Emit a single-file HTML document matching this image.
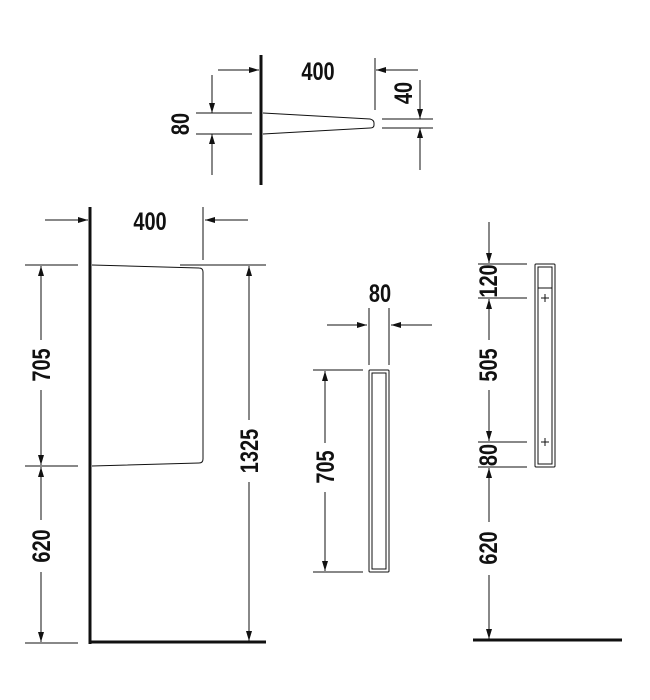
<!DOCTYPE html>
<html><head><style>body{margin:0;background:#fff}svg{display:block}text{font-family:"Liberation Sans",sans-serif;font-weight:bold;font-size:25px;fill:#111}</style></head>
<body>
<svg width="650" height="700" viewBox="0 0 650 700" xmlns="http://www.w3.org/2000/svg">
<defs><marker id="a" viewBox="0 0 10 6" refX="10" refY="3" markerWidth="10" markerHeight="6" markerUnits="userSpaceOnUse" orient="auto"><path d="M0,0L10,3L0,6z" fill="#111"/></marker></defs>
<g stroke="#111" stroke-width="1" fill="none">
<line x1="261" y1="55" x2="261" y2="185" stroke-width="3"/>
<path d="M263,113 L370,119 Q374,120 374,123 L374,125 Q374,128 370,128 L263,134"/>
<line x1="196" y1="113" x2="252" y2="113"/><line x1="196" y1="134" x2="252" y2="134"/>
<line x1="212" y1="75" x2="212" y2="113" marker-end="url(#a)"/><line x1="212" y1="175" x2="212" y2="134" marker-end="url(#a)"/>
<line x1="218" y1="70" x2="259" y2="70" marker-end="url(#a)"/>
<line x1="375" y1="58" x2="375" y2="110"/>
<line x1="418" y1="70" x2="376" y2="70" marker-end="url(#a)"/>
<line x1="382" y1="119" x2="433" y2="119"/><line x1="382" y1="128" x2="433" y2="128"/>
<line x1="420" y1="80" x2="420" y2="119" marker-end="url(#a)"/><line x1="420" y1="170" x2="420" y2="128" marker-end="url(#a)"/>
<line x1="90" y1="207" x2="90" y2="644" stroke-width="3"/>
<line x1="89" y1="642" x2="266" y2="642" stroke-width="3"/>
<path d="M92,265 L199,268 Q203,268 203,272 L203,459 Q203,463 199,463 L92,466"/>
<line x1="25" y1="265" x2="78" y2="265"/><line x1="25" y1="466" x2="78" y2="466"/><line x1="25" y1="643" x2="78" y2="643"/>
<line x1="180" y1="265" x2="266" y2="265"/>
<line x1="41" y1="340" x2="41" y2="266" marker-end="url(#a)"/><line x1="41" y1="390" x2="41" y2="465" marker-end="url(#a)"/>
<line x1="41" y1="520" x2="41" y2="467" marker-end="url(#a)"/><line x1="41" y1="572" x2="41" y2="642" marker-end="url(#a)"/>
<line x1="249" y1="420" x2="249" y2="266" marker-end="url(#a)"/><line x1="249" y1="482" x2="249" y2="641" marker-end="url(#a)"/>
<line x1="45" y1="220" x2="88" y2="220" marker-end="url(#a)"/>
<line x1="203" y1="207" x2="203" y2="260"/>
<line x1="248" y1="220" x2="205" y2="220" marker-end="url(#a)"/>
<rect x="369" y="370" width="20" height="202" rx="1"/>
<rect x="372" y="373" width="14" height="196"/>
<line x1="369" y1="308" x2="369" y2="365"/><line x1="389" y1="308" x2="389" y2="365"/>
<line x1="327" y1="325" x2="367" y2="325" marker-end="url(#a)"/><line x1="432" y1="325" x2="391" y2="325" marker-end="url(#a)"/>
<line x1="313" y1="370" x2="363" y2="370"/><line x1="313" y1="572" x2="363" y2="572"/>
<line x1="325" y1="443" x2="325" y2="371" marker-end="url(#a)"/><line x1="325" y1="492" x2="325" y2="571" marker-end="url(#a)"/>
<rect x="535" y="264" width="20" height="203" rx="1"/>
<rect x="538" y="267" width="14" height="197"/>
<line x1="538" y1="288" x2="552" y2="288"/>
<line x1="541" y1="298" x2="549" y2="298"/><line x1="545" y1="294" x2="545" y2="302"/>
<line x1="541" y1="442" x2="549" y2="442"/><line x1="545" y1="438" x2="545" y2="446"/>
<line x1="478" y1="264" x2="527" y2="264"/><line x1="478" y1="298" x2="527" y2="298"/>
<line x1="478" y1="442" x2="527" y2="442"/><line x1="478" y1="467" x2="527" y2="467"/>
<line x1="489" y1="222" x2="489" y2="263" marker-end="url(#a)"/>
<line x1="489" y1="340" x2="489" y2="299" marker-end="url(#a)"/><line x1="489" y1="390" x2="489" y2="441" marker-end="url(#a)"/>
<line x1="489" y1="522" x2="489" y2="468" marker-end="url(#a)"/><line x1="489" y1="575" x2="489" y2="639" marker-end="url(#a)"/>
<line x1="473" y1="640" x2="622" y2="640" stroke-width="3"/>
</g>
<g text-anchor="middle">
<text transform="translate(318,80) scale(0.8,1)">400</text>
<text transform="translate(150,230) scale(0.8,1)">400</text>
<text transform="translate(380,302) scale(0.8,1)">80</text>
<text transform="translate(189,124) rotate(-90) scale(0.8,1)">80</text>
<text transform="translate(412,93) rotate(-90) scale(0.8,1)">40</text>
<text transform="translate(50,365) rotate(-90) scale(0.8,1)">705</text>
<text transform="translate(50,546) rotate(-90) scale(0.8,1)">620</text>
<text transform="translate(258,451) rotate(-90) scale(0.8,1)">1325</text>
<text transform="translate(334,467) rotate(-90) scale(0.8,1)">705</text>
<text transform="translate(497,281) rotate(-90) scale(0.8,1)">120</text>
<text transform="translate(497,365) rotate(-90) scale(0.8,1)">505</text>
<text transform="translate(497,455) rotate(-90) scale(0.8,1)">80</text>
<text transform="translate(497,548) rotate(-90) scale(0.8,1)">620</text>
</g>
</svg>
</body></html>
